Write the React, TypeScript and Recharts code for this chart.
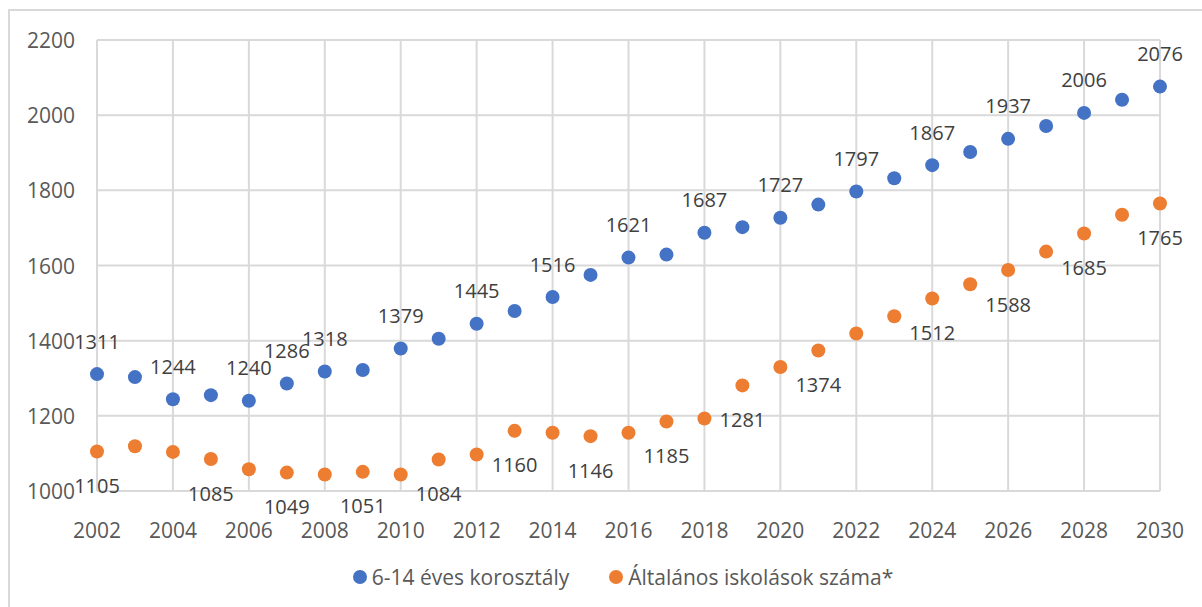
import { ScatterChart, Scatter, XAxis, YAxis, CartesianGrid } from "recharts";

const YEARS = [
    2002, 2003, 2004, 2005, 2006, 2007, 2008, 2009, 2010, 2011, 2012, 2013, 2014, 2015, 2016,
    2017, 2018, 2019, 2020, 2021, 2022, 2023, 2024, 2025, 2026, 2027, 2028, 2029, 2030,
];

// 6-14 éves korosztály (ezer fő)
const AGE_GROUP = [
    1311, 1303, 1244, 1255, 1240, 1286, 1318, 1322, 1379, 1405, 1445, 1479, 1516, 1575, 1621,
    1629, 1687, 1702, 1727, 1762, 1797, 1832, 1867, 1902, 1937, 1971, 2006, 2041, 2076,
];

// Általános iskolások száma*
const PUPILS = [
    1105, 1119, 1104, 1085, 1058, 1049, 1044, 1051, 1044, 1084, 1097, 1160, 1155, 1146, 1155,
    1185, 1193, 1281, 1330, 1374, 1419, 1465, 1512, 1550, 1588, 1637, 1685, 1735, 1765,
];

// years that carry a data label
const AGE_LABEL_YEARS = [2002, 2004, 2006, 2007, 2008, 2010, 2012, 2014, 2016, 2018, 2020, 2022, 2024, 2026, 2028, 2030];
const PUPIL_LABEL_YEARS = [2002, 2005, 2007, 2009, 2011, 2013, 2015, 2017, 2019, 2021, 2024, 2026, 2028, 2030];

const X_TICKS = [2002, 2004, 2006, 2008, 2010, 2012, 2014, 2016, 2018, 2020, 2022, 2024, 2026, 2028, 2030];
const Y_TICKS = [1000, 1200, 1400, 1600, 1800, 2000, 2200];

const SERIES_NAMES = ["6-14 éves korosztály", "Általános iskolások száma*"];

const BLUE = "#4472c4";
const ORANGE = "#ed7d31";
const TEXT = "#595959";
const GRID = "#d9d9d9";
const FONT = "'Open Sans', sans-serif";

const ageData = YEARS.map((year, i) => ({ year, value: AGE_GROUP[i], label: AGE_LABEL_YEARS.includes(year) }));
const pupilData = YEARS.map((year, i) => ({ year, value: PUPILS[i], label: PUPIL_LABEL_YEARS.includes(year) }));

function makeDot(color: string, labelOffset: number) {
    return (props: any) => {
        const { cx, cy, payload } = props;
        return (
            <g>
                <circle cx={cx} cy={cy} r={7} fill={color} />
                {payload.label && (
                    <text
                        x={cx}
                        y={cy + labelOffset}
                        textAnchor="middle"
                        dominantBaseline="central"
                        fontSize={20}
                        fontFamily={FONT}
                        fill="#404040"
                    >
                        {payload.value}
                    </text>
                )}
            </g>
        );
    };
}

const XTick = (props: any) => {
    const { x, y, payload } = props;
    return (
        <text x={x} y={y + 31} textAnchor="middle" dominantBaseline="central" fontSize={21} fontFamily={FONT} fill={TEXT}>
            {payload.value}
        </text>
    );
};

const YTick = (props: any) => {
    const { y, payload } = props;
    return (
        <text x={75} y={y} textAnchor="end" dominantBaseline="central" fontSize={21} fontFamily={FONT} fill={TEXT}>
            {payload.value}
        </text>
    );
};

const dotStyle = (color: string) => ({
    width: 14,
    height: 14,
    borderRadius: 7,
    background: color,
    marginRight: 5,
    display: "inline-block",
});

export default function App() {
    return (
        <div style={{ position: "absolute", left: 0, top: 0, width: 1202, height: 607, overflow: "hidden", background: "#fff" }}>
            <div
                style={{
                    position: "absolute",
                    left: 8,
                    top: 9,
                    width: 1220,
                    height: 620,
                    border: `2px solid ${GRID}`,
                    boxSizing: "border-box",
                }}
            />
            <div style={{ position: "absolute", left: 0, top: 0 }}>
                <ScatterChart width={1202} height={607} margin={{ top: 40, right: 42, bottom: 0, left: 0 }}>
                    <CartesianGrid stroke={GRID} strokeWidth={2} />
                    <XAxis
                        type="number"
                        dataKey="year"
                        domain={[2002, 2030]}
                        ticks={X_TICKS}
                        interval={0}
                        tick={<XTick />}
                        tickLine={false}
                        axisLine={{ stroke: GRID, strokeWidth: 2 }}
                        height={116}
                    />
                    <YAxis
                        type="number"
                        dataKey="value"
                        domain={[1000, 2200]}
                        ticks={Y_TICKS}
                        interval={0}
                        tick={<YTick />}
                        tickLine={false}
                        axisLine={false}
                        width={97}
                    />
                    <Scatter
                        name={SERIES_NAMES[0]}
                        data={ageData}
                        fill={BLUE}
                        shape={makeDot(BLUE, -33)}
                        isAnimationActive={false}
                    />
                    <Scatter
                        name={SERIES_NAMES[1]}
                        data={pupilData}
                        fill={ORANGE}
                        shape={makeDot(ORANGE, 34)}
                        isAnimationActive={false}
                    />
                </ScatterChart>
            </div>
            <div
                style={{
                    position: "absolute",
                    top: 563,
                    left: 22,
                    width: 1202,
                    display: "flex",
                    justifyContent: "center",
                    fontFamily: FONT,
                    fontSize: 21,
                    color: TEXT,
                    lineHeight: "28px",
                }}
            >
                <span style={{ display: "flex", alignItems: "center", marginRight: 40 }}>
                    <span style={dotStyle(BLUE)} />
                    {SERIES_NAMES[0]}
                </span>
                <span style={{ display: "flex", alignItems: "center" }}>
                    <span style={dotStyle(ORANGE)} />
                    {SERIES_NAMES[1]}
                </span>
            </div>
        </div>
    );
}
